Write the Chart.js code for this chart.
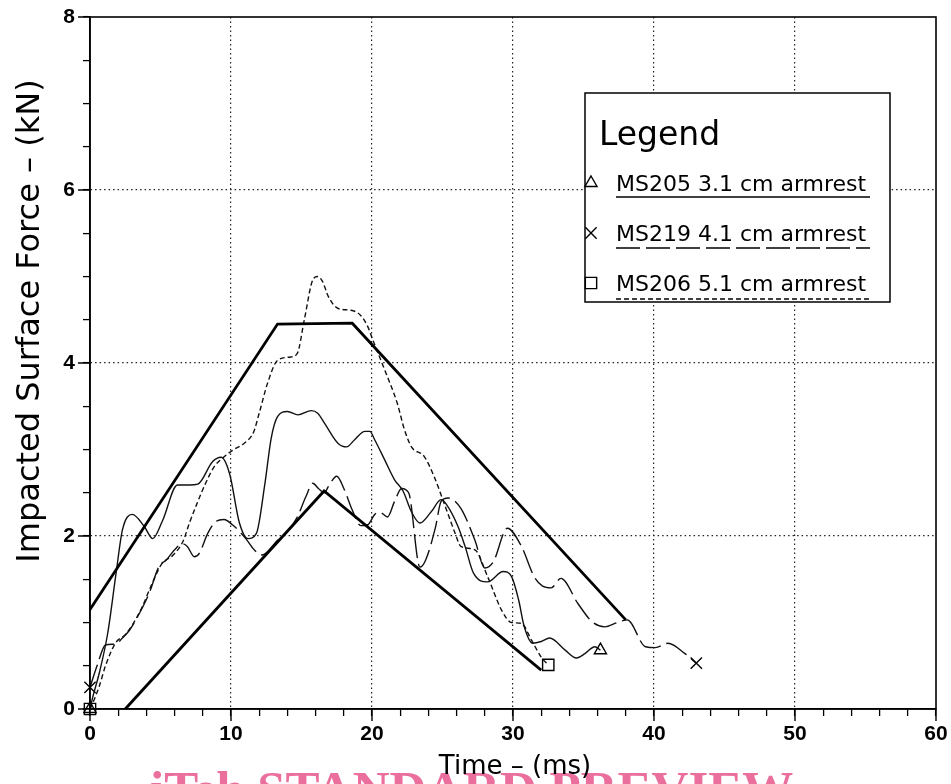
<!DOCTYPE html>
<html>
<head>
<meta charset="utf-8">
<script src="https://cdn.jsdelivr.net/npm/chart.js@4.4.1/dist/chart.umd.min.js"></script>
<style>
  html, body { margin: 0; padding: 0; background: #fff; }
</style>
</head>
<body>
<canvas id="myChart" width="951" height="784"></canvas>
<script>
var ctx = document.getElementById("myChart").getContext("2d");

// legend names
const seriesNames = ["MS205 3.1 cm armrest", "MS219 4.1 cm armrest", "MS206 5.1 cm armrest"];

// MS205 - solid
const ms205Time  = [0, 0.2, 0.65, 1.25, 1.85, 2.3, 3.0, 3.85, 4.45, 5.15, 6.2, 7.05, 7.65, 8.7, 9.3, 9.9, 10.6, 11.2, 11.8, 12.4, 12.85, 13.3, 14.0, 14.75, 15.7, 16.15, 16.65, 17.6, 18.2, 18.75, 19.5, 19.85, 20.2, 20.9, 21.6, 22.2, 22.8, 23.4, 24.2, 24.9, 25.3, 26.1, 26.6, 27.2, 28.2, 29.3, 29.9, 30.4, 30.8, 31.4, 32.0, 32.6, 33.7, 34.5, 35.1, 35.8, 36.2];
const ms205Force = [0, 0.14, 0.41, 0.87, 1.57, 2.07, 2.25, 2.11, 1.97, 2.18, 2.59, 2.59, 2.60, 2.86, 2.91, 2.72, 2.15, 1.97, 2.03, 2.6, 3.13, 3.38, 3.44, 3.40, 3.45, 3.42, 3.30, 3.07, 3.03, 3.11, 3.21, 3.21, 3.11, 2.88, 2.65, 2.52, 2.28, 2.15, 2.28, 2.42, 2.36, 2.11, 1.88, 1.57, 1.47, 1.59, 1.53, 1.26, 0.95, 0.76, 0.78, 0.82, 0.68, 0.59, 0.64, 0.72, 0.68];

// MS219 - long dash
const ms219Time  = [0, 0.5, 1.1, 1.8, 2.3, 2.8, 3.25, 4.2, 4.9, 5.4, 6.0, 6.55, 6.9, 7.4, 7.75, 8.35, 8.95, 9.5, 10.1, 11.05, 11.65, 12.2, 13.3, 14.0, 14.7, 15.3, 15.8, 16.2, 16.6, 17.0, 17.5, 18.0, 18.6, 19.2, 19.7, 20.2, 20.6, 21.1, 21.6, 22.1, 22.6, 23.4, 23.8, 24.5, 24.9, 25.4, 26.3, 27.3, 28.0, 28.6, 29.6, 30.6, 31.5, 32.1, 32.7, 33.4, 34.6, 35.6, 36.5, 37.4, 38.1, 39.4, 40.1, 41.0, 42.2, 43.0];
const ms219Force = [0.25, 0.5, 0.74, 0.75, 0.82, 0.91, 1.03, 1.34, 1.65, 1.72, 1.84, 1.91, 1.88, 1.76, 1.80, 2.03, 2.17, 2.19, 2.13, 1.97, 1.84, 1.78, 1.95, 2.05, 2.22, 2.45, 2.61, 2.55, 2.50, 2.60, 2.69, 2.55, 2.30, 2.12, 2.13, 2.25, 2.27, 2.22, 2.40, 2.55, 2.50, 1.64, 1.72, 2.10, 2.40, 2.44, 2.32, 1.95, 1.63, 1.70, 2.09, 1.88, 1.53, 1.42, 1.40, 1.51, 1.22, 1.01, 0.95, 1.00, 1.03, 0.72, 0.71, 0.76, 0.64, 0.53];

// MS206 - short dash
const ms206Time  = [0, 0.2, 0.65, 1.1, 1.8, 2.5, 3.0, 3.7, 4.4, 5.1, 5.9, 6.6, 7.05, 7.6, 8.2, 8.8, 9.4, 10.1, 11.0, 11.6, 12.0, 12.6, 13.3, 14.25, 14.7, 15.2, 15.8, 16.15, 16.5, 16.9, 17.6, 18.5, 19.2, 19.7, 20.05, 20.9, 21.8, 22.3, 22.8, 23.7, 24.4, 25.2, 25.9, 26.3, 27.3, 28.2, 29.2, 29.9, 30.6, 31.3, 32.0, 32.5];
const ms206Force = [0, 0.07, 0.26, 0.5, 0.76, 0.86, 0.97, 1.18, 1.45, 1.68, 1.78, 1.94, 2.15, 2.38, 2.61, 2.80, 2.90, 2.99, 3.08, 3.20, 3.42, 3.77, 4.03, 4.07, 4.11, 4.50, 4.96, 5.00, 4.94, 4.77, 4.63, 4.61, 4.55, 4.42, 4.27, 3.92, 3.53, 3.23, 3.03, 2.92, 2.69, 2.34, 2.03, 1.88, 1.84, 1.53, 1.14, 1.00, 0.99, 0.80, 0.60, 0.51];

// corridor (thick lines)
const upperTime  = [0, 13.3, 18.6, 38.0];
const upperForce = [1.15, 4.45, 4.46, 1.03];
const lowerTime  = [2.5, 16.6, 32.0];
const lowerForce = [0, 2.52, 0.45];

// axis ticks
const xLabelTicks = [0, 10, 20, 30, 40, 50, 60];
const yLabelTicks = [0, 2, 4, 6, 8];

const xTitle = "Time – (ms)";
const yTitle = "Impacted Surface Force – (kN)";
const legendTitle = "Legend";
const watermark = "iTeh STANDARD PREVIEW";

function toPoints(xs, ys) {
  return xs.map((x, i) => ({ x: x, y: ys[i] }));
}

// markers only on first and last point
function endsOnly(r) {
  return c => (c.dataIndex === 0 || c.dataIndex === c.dataset.data.length - 1) ? r : 0;
}

const lineFont = "'DejaVu Sans', sans-serif";
const tickFont = "'Liberation Sans', Arial, sans-serif";

const curveStyles = [
  { dash: [], point: "triangle", radius: 7 },
  { dash: [24, 6], point: "crossRot", radius: 8 },
  { dash: [5, 3], point: "rect", radius: 8 }
];

// frame, longer major ticks, titles, legend box, watermark
const extras = {
  id: "extras",
  afterDraw(chart) {
    const c = chart.ctx;
    const a = chart.chartArea;
    const xs = chart.scales.x;
    const ys = chart.scales.y;
    c.save();

    // frame on top and right
    c.strokeStyle = "#000";
    c.lineWidth = 1.6;
    c.strokeRect(a.left, a.top, a.right - a.left, a.bottom - a.top);

    // longer major ticks
    c.lineWidth = 1.4;
    c.beginPath();
    xLabelTicks.forEach(v => {
      const px = xs.getPixelForValue(v);
      c.moveTo(px, a.bottom);
      c.lineTo(px, a.bottom + 12);
    });
    yLabelTicks.forEach(v => {
      const py = ys.getPixelForValue(v);
      c.moveTo(a.left, py);
      c.lineTo(a.left - 12, py);
    });
    c.stroke();

    // watermark
    c.fillStyle = "#ea6f9d";
    c.font = "bold 51px 'Liberation Serif', serif";
    c.textAlign = "left";
    c.textBaseline = "alphabetic";
    c.fillText(watermark, 150, 806);

    // axis titles
    c.fillStyle = "#000";
    c.font = "26px " + lineFont;
    c.textAlign = "center";
    c.textBaseline = "middle";
    c.fillText(xTitle, 515, 767);

    c.save();
    c.translate(31, 321);
    c.rotate(-Math.PI / 2);
    c.font = "32px " + lineFont;
    c.fillText(yTitle, 0, 0);
    c.restore();

    // legend
    c.fillStyle = "#fff";
    c.fillRect(585, 93, 305, 209);
    c.lineWidth = 1.5;
    c.strokeRect(585, 93, 305, 209);
    c.fillStyle = "#000";
    c.textAlign = "left";
    c.textBaseline = "alphabetic";
    c.font = "33px " + lineFont;
    c.fillText(legendTitle, 599, 145);

    const rows = [191, 241, 291];
    const unders = [197, 248, 299];
    c.font = "22px " + lineFont;
    seriesNames.forEach((name, i) => {
      c.fillStyle = "#000";
      c.fillText(name, 616, rows[i]);
      c.beginPath();
      c.setLineDash(curveStyles[i].dash);
      c.lineWidth = 1.5;
      c.moveTo(616, unders[i]);
      c.lineTo(870, unders[i]);
      c.stroke();
      c.setLineDash([]);
      c.fillStyle = "rgba(0,0,0,0)";
      c.lineWidth = 1.4;
      Chart.helpers.drawPoint(c, {
        pointStyle: curveStyles[i].point,
        radius: curveStyles[i].radius,
        rotation: 0,
        borderWidth: 1.4
      }, 591, rows[i] - 8);
    });
    c.restore();
  }
};

function curve(i, xs, ys) {
  return {
    label: seriesNames[i],
    data: toPoints(xs, ys),
    borderColor: "#111",
    borderWidth: 1.4,
    borderDash: curveStyles[i].dash,
    cubicInterpolationMode: "monotone",
    pointStyle: curveStyles[i].point,
    pointRadius: endsOnly(curveStyles[i].radius),
    pointBorderWidth: 1.4,
    pointBorderColor: "#000",
    pointBackgroundColor: "rgba(0,0,0,0)",
    clip: false
  };
}

function corridor(xs, ys) {
  return {
    label: "corridor",
    data: toPoints(xs, ys),
    borderColor: "#000",
    borderWidth: 2.8,
    tension: 0,
    pointRadius: 0,
    clip: false
  };
}

let myChart = new Chart(ctx, {
  type: "line",
  data: {
    datasets: [
      corridor(upperTime, upperForce),
      corridor(lowerTime, lowerForce),
      curve(0, ms205Time, ms205Force),
      curve(1, ms219Time, ms219Force),
      curve(2, ms206Time, ms206Force)
    ]
  },
  options: {
    responsive: false,
    animation: false,
    devicePixelRatio: 1,
    layout: { padding: { top: 17, right: 15, left: 0, bottom: 0 } },
    plugins: {
      legend: { display: false },
      tooltip: { enabled: false }
    },
    scales: {
      x: {
        type: "linear",
        min: 0,
        max: 60,
        afterFit: s => {
          s.height = 75;
          s.paddingLeft = 0;
          s.paddingRight = 0;
        },
        afterBuildTicks: s => {
          s.ticks = [];
          for (let v = 0; v <= 60; v += 2) s.ticks.push({ value: v });
        },
        ticks: {
          autoSkip: false,
          maxRotation: 0,
          padding: 6,
          color: "#000",
          font: { family: tickFont, size: 21, weight: "bold" },
          callback: v => xLabelTicks.includes(v) ? String(v) : ""
        },
        grid: {
          color: c => (c.tick && c.tick.value % 10 === 0 && c.tick.value > 0 && c.tick.value < 60) ? "#222" : "rgba(0,0,0,0)",
          lineWidth: 1.2,
          tickColor: "#000",
          tickLength: 7,
          tickWidth: 1.3
        },
        border: { display: true, color: "#000", width: 1.6, dash: [1.5, 3] }
      },
      y: {
        type: "linear",
        min: 0,
        max: 8,
        afterFit: s => {
          s.width = 90;
          s.paddingTop = 0;
          s.paddingBottom = 0;
        },
        afterBuildTicks: s => {
          s.ticks = [];
          for (let v = 0; v <= 8; v += 0.5) s.ticks.push({ value: v });
        },
        ticks: {
          autoSkip: false,
          padding: 8,
          color: "#000",
          font: { family: tickFont, size: 21, weight: "bold" },
          callback: v => yLabelTicks.includes(v) ? String(v) : ""
        },
        grid: {
          color: c => (c.tick && c.tick.value % 2 === 0 && c.tick.value > 0 && c.tick.value < 8) ? "#222" : "rgba(0,0,0,0)",
          lineWidth: 1.2,
          tickColor: "#000",
          tickLength: 7,
          tickWidth: 1.3
        },
        border: { display: true, color: "#000", width: 1.6, dash: [1.5, 3] }
      }
    }
  },
  plugins: [extras]
});
</script>
</body>
</html>
